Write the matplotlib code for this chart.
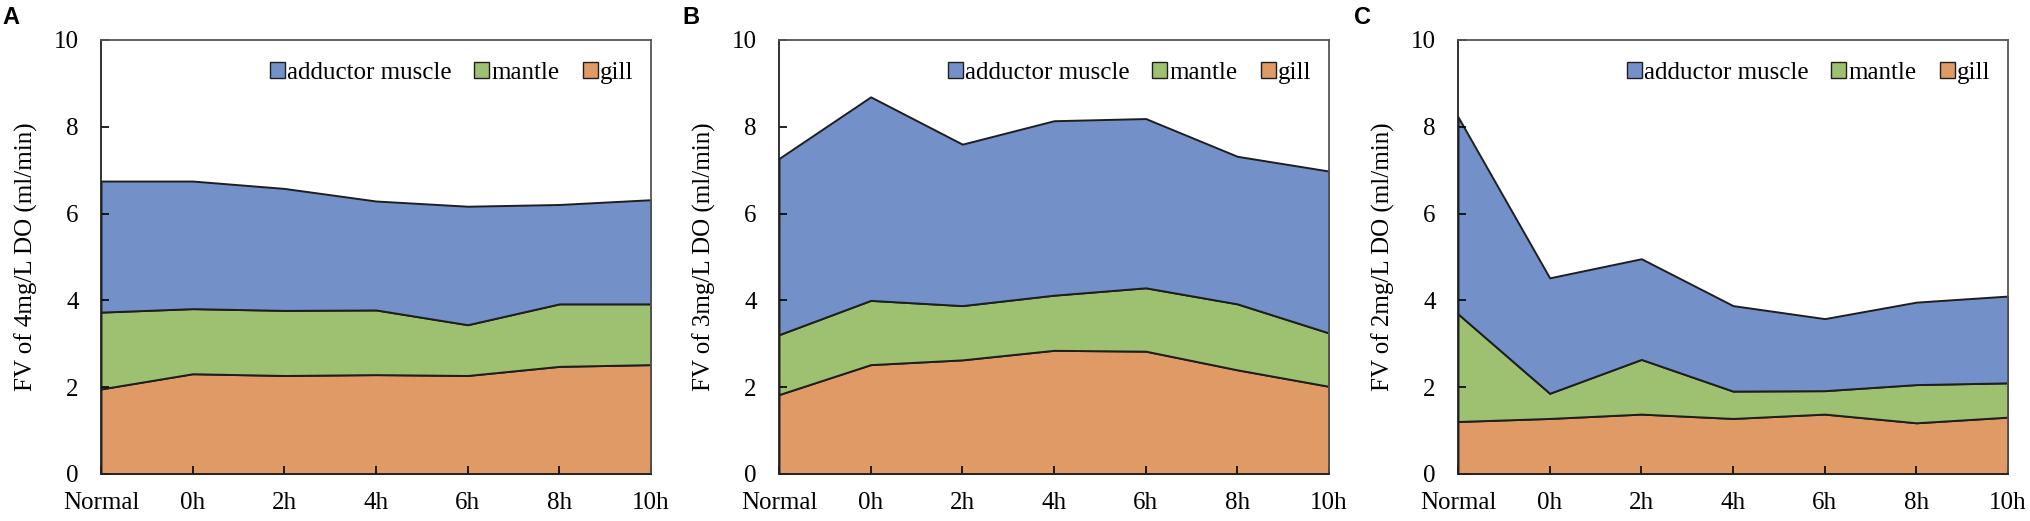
import numpy as np
import matplotlib.pyplot as plt
from matplotlib.patches import Patch

plt.rcParams['font.family'] = ['Liberation Serif', 'DejaVu Serif']

# Categories and stacked values (ml/min)
categories = ['Normal', '0h', '2h', '4h', '6h', '8h', '10h']

# Panel A: 4 mg/L DO
gill_a = [1.96, 2.31, 2.27, 2.29, 2.27, 2.48, 2.52]
mantle_a = [1.77, 1.50, 1.50, 1.49, 1.17, 1.44, 1.40]
adductor_a = [3.02, 2.94, 2.81, 2.51, 2.73, 2.29, 2.40]

# Panel B: 3 mg/L DO
gill_b = [1.83, 2.52, 2.63, 2.85, 2.83, 2.40, 2.02]
mantle_b = [1.38, 1.48, 1.25, 1.27, 1.46, 1.52, 1.23]
adductor_b = [4.06, 4.69, 3.72, 4.02, 3.90, 3.40, 3.73]

# Panel C: 2 mg/L DO
gill_c = [1.21, 1.28, 1.38, 1.28, 1.38, 1.18, 1.31]
mantle_c = [2.48, 0.58, 1.26, 0.63, 0.54, 0.88, 0.79]
adductor_c = [4.54, 2.66, 2.32, 1.97, 1.66, 1.90, 2.00]

panels = [
    ('A', '4mg/L', gill_a, mantle_a, adductor_a),
    ('B', '3mg/L', gill_b, mantle_b, adductor_b),
    ('C', '2mg/L', gill_c, mantle_c, adductor_c),
]

C_ADD = '#7490c9'
C_MAN = '#9dc170'
C_GILL = '#df9a66'
EDGE = '#1e1e1e'

fig = plt.figure(figsize=(20.30, 5.21), dpi=100)

W, H = 2030, 521
lefts = [101 / W, 779 / W, 1458 / W]
label_x = [2 / W, 682 / W, 1354 / W]

x = np.arange(len(categories))

for i, (tag, conc, gill, mantle, adductor) in enumerate(panels):
    ax = fig.add_axes([lefts[i], 1 - 474 / H, 550 / W, 434 / H])
    ax.stackplot(x, gill, mantle, adductor,
                 colors=[C_GILL, C_MAN, C_ADD],
                 edgecolor=EDGE, linewidth=1.4)
    ax.set_xlim(0, 6)
    ax.set_ylim(0, 10)
    ax.set_xticks(x)
    ax.set_xticklabels(categories)
    ax.set_yticks([0, 2, 4, 6, 8, 10])
    ax.tick_params(direction='in', length=6, width=1.2, labelsize=18)
    ax.tick_params(axis='y', pad=16)
    ax.tick_params(axis='x', pad=13)
    for side, sp in ax.spines.items():
        sp.set_linewidth(1.3)
        sp.set_color('#222222' if side in ('left', 'bottom') else '#555555')
    ax.set_ylabel(f'FV of {conc} DO (ml/min)', fontsize=18)
    ax.yaxis.set_label_coords(-0.115, 0.5)

    handles = [Patch(facecolor=C_ADD, edgecolor=EDGE, lw=1.0),
               Patch(facecolor=C_MAN, edgecolor=EDGE, lw=1.0),
               Patch(facecolor=C_GILL, edgecolor=EDGE, lw=1.0)]
    ax.legend(handles, ['adductor muscle', 'mantle', 'gill'],
              loc='upper right', ncol=3, frameon=False, fontsize=18,
              handlelength=0.6, handleheight=0.6, handletextpad=0.1,
              columnspacing=0.9, borderaxespad=0.3,
              bbox_to_anchor=(1.0, 0.99))

    fig.text(label_x[i], 1 - 6 / H, tag, fontsize=17, fontweight='bold',
             family=['Liberation Sans', 'DejaVu Sans'], va='top', ha='left')

plt.savefig('out.png', dpi=100)
